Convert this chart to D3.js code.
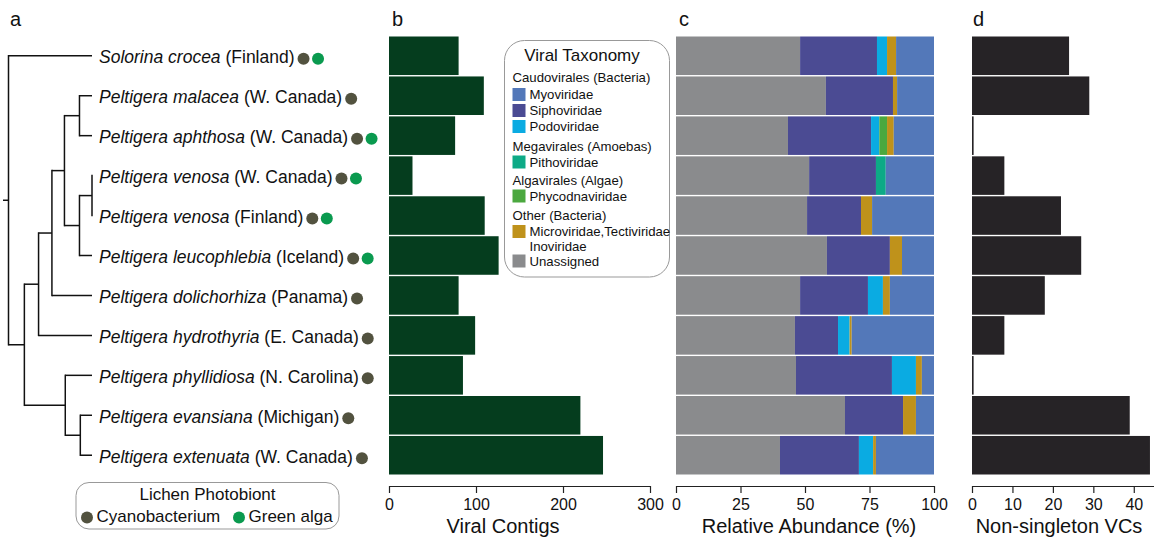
<!DOCTYPE html>
<html lang="en">
<head>
  <meta charset="UTF-8">
  <title>Lichen viromes</title>
  <script src="https://d3js.org/d3.v7.min.js"></script>
  <style>
    body { margin: 0; background: #fff; }
    svg { font-family: "Liberation Sans", Arial, Helvetica, sans-serif; }
    .tick line, .domain { stroke: #222; stroke-width: 1.2px; }
    .axis-title { font-size: 20px; fill: #111; text-anchor: middle; }
    .panel-letter { font-size: 20px; fill: #111; }
  </style>
</head>
<body>
  <svg width="1154" height="538"></svg>
  <script>
    // rows from top to bottom
    const species = ['Solorina crocea', 'Peltigera malacea', 'Peltigera aphthosa', 'Peltigera venosa',
      'Peltigera venosa', 'Peltigera leucophlebia', 'Peltigera dolichorhiza', 'Peltigera hydrothyria',
      'Peltigera phyllidiosa', 'Peltigera evansiana', 'Peltigera extenuata'];
    const locations = ['Finland', 'W. Canada', 'W. Canada', 'W. Canada', 'Finland', 'Iceland',
      'Panama', 'E. Canada', 'N. Carolina', 'Michigan', 'W. Canada'];
    // photobionts: c = cyanobacterium, g = green alga
    const photobionts = [['c', 'g'], ['c'], ['c', 'g'], ['c', 'g'], ['c', 'g'], ['c', 'g'],
      ['c'], ['c'], ['c'], ['c'], ['c']];
    const viralContigs = [80, 109, 76, 27, 110, 126, 80, 99, 85, 220, 246];
    const nonSingletonVCs = [24, 29, 0.4, 8, 22, 27, 18, 8, 0.4, 39, 44];

    // relative abundance (%) per family
    const unassigned = [48.1, 58.1, 43.4, 51.6, 50.8, 58.5, 48.1, 46.1, 46.5, 65.5, 40.3];
    const siphoviridae = [29.8, 26.0, 32.2, 25.9, 20.9, 24.4, 26.3, 16.7, 37.2, 22.5, 30.6];
    const podoviridae = [3.9, 0, 3.2, 0, 0, 0, 5.8, 4.5, 9.3, 0, 5.5];
    const pithoviridae = [0, 0, 0, 3.8, 0, 0, 0, 0, 0, 0, 0];
    const phycodnaviridae = [0, 0, 3.0, 0, 0, 0, 0, 0, 0, 0, 0];
    const microviridae = [3.5, 1.6, 2.6, 0, 4.3, 4.7, 2.7, 0.8, 2.3, 5.0, 1.1];
    const myoviridae = [14.7, 14.3, 15.6, 18.7, 24.0, 12.4, 17.1, 31.9, 4.7, 7.0, 22.5];

    const contigTicks = [0, 100, 200, 300];
    const abundanceTicks = [0, 25, 50, 75, 100];
    const vcTicks = [0, 10, 20, 30, 40];

    // tree: leaves refer to row index, h = node depth
    const tree = { h: 0, children: [
      { leaf: 0 },
      { h: 0.19, children: [
        { h: 0.36, children: [
          { h: 0.52, children: [
            { h: 0.67, children: [
              { h: 0.85, children: [{ leaf: 1 }, { leaf: 2 }] },
              { h: 0.85, children: [
                { h: 1.0, children: [{ leaf: 3 }, { leaf: 4 }] },
                { leaf: 5 }
              ] }
            ] },
            { leaf: 6 }
          ] },
          { leaf: 7 }
        ] },
        { h: 0.68, children: [
          { leaf: 8 },
          { h: 0.86, children: [{ leaf: 9 }, { leaf: 10 }] }
        ] }
      ] }
    ] };

    const families = [
      { key: 'Unassigned', values: unassigned, color: '#8a8b8d' },
      { key: 'Siphoviridae', values: siphoviridae, color: '#4b4b93' },
      { key: 'Podoviridae', values: podoviridae, color: '#0aabe2' },
      { key: 'Pithoviridae', values: pithoviridae, color: '#0daa86' },
      { key: 'Phycodnaviridae', values: phycodnaviridae, color: '#4ba83f' },
      { key: 'Microviridae', values: microviridae, color: '#bf921b' },
      { key: 'Myoviridae', values: myoviridae, color: '#5378b9' }
    ];
    const photoColor = { c: '#52523f', g: '#0a9a4f' };

    const svg = d3.select('svg');
    const rows = d3.range(species.length);
    const y = d3.scaleBand().domain(rows).range([36.5, 474.5]).paddingInner(0.035);
    const rowY = i => y(i) + y.bandwidth() / 2;

    // ---------- panel a: tree ----------
    const tx = d3.scaleLinear().domain([0, 1]).range([8.5, 92]);
    const treeG = svg.append('g').attr('fill', 'none').attr('stroke', '#111').attr('stroke-width', 1.5);
    function layout(node) {
      if (node.leaf !== undefined) {
        node.h = 1;
        node.y = rowY(node.leaf);
        return;
      }
      node.children.forEach(layout);
      node.y = (node.children[0].y + node.children[node.children.length - 1].y) / 2;
    }
    layout(tree);
    function drawTree(node) {
      if (!node.children) return;
      const ys = node.children.map(c => c.y);
      treeG.append('line').attr('x1', tx(node.h)).attr('x2', tx(node.h))
        .attr('y1', d3.min(ys) - 0.75).attr('y2', d3.max(ys) + 0.75);
      node.children.forEach(c => {
        if (c.h > node.h) {
          treeG.append('line').attr('x1', tx(node.h)).attr('x2', tx(c.h))
            .attr('y1', c.y).attr('y2', c.y);
        }
        drawTree(c);
      });
    }
    drawTree(tree);
    treeG.append('line').attr('x1', 3).attr('x2', tx(0)).attr('y1', tree.y).attr('y2', tree.y);

    const labels = svg.append('g');
    rows.forEach(i => {
      const ly = rowY(i) + 1.5;
      const t = labels.append('text').attr('x', 99).attr('y', ly).attr('dy', '0.35em')
        .attr('font-size', 17.5).attr('fill', '#111');
      t.append('tspan').attr('font-style', 'italic').text(species[i]);
      t.append('tspan').text(` (${locations[i]})`);
      const end = 99 + t.node().getComputedTextLength();
      photobionts[i].forEach((p, j) => {
        labels.append('circle').attr('cx', end + 9 + j * 14.5).attr('cy', ly + 1.5).attr('r', 6)
          .attr('fill', photoColor[p]);
      });
    });

    // photobiont legend
    const la = svg.append('g');
    la.append('rect').attr('x', 76).attr('y', 482.5).attr('width', 263).attr('height', 46.5)
      .attr('rx', 13).attr('fill', '#fff').attr('stroke', '#999').attr('stroke-width', 1);
    la.append('text').attr('x', 207.5).attr('y', 494).attr('dy', '0.35em').attr('text-anchor', 'middle')
      .attr('font-size', 17).attr('fill', '#111').text('Lichen Photobiont');
    [['c', 'Cyanobacterium', 87], ['g', 'Green alga', 239]].forEach(([k, name, cx]) => {
      la.append('circle').attr('cx', cx).attr('cy', 517.5).attr('r', 6).attr('fill', photoColor[k]);
      la.append('text').attr('x', cx + 9.5).attr('y', 516).attr('dy', '0.35em')
        .attr('font-size', 17).attr('fill', '#111').text(name);
    });

    // ---------- panel b: viral contigs ----------
    const xb = d3.scaleLinear().domain([0, 300]).range([389, 650]);
    svg.append('g').selectAll('rect').data(rows).join('rect')
      .attr('x', xb(0)).attr('y', i => y(i)).attr('height', y.bandwidth())
      .attr('width', i => xb(viralContigs[i]) - xb(0)).attr('fill', '#053d1e');

    // ---------- panel c: relative abundance ----------
    const xc = d3.scaleLinear().domain([0, 100]).range([676, 934]);
    const table = rows.map(i => {
      const o = { row: i };
      families.forEach(f => { o[f.key] = f.values[i]; });
      return o;
    });
    const stack = d3.stack().keys(families.map(f => f.key))(table);
    svg.append('g').selectAll('g').data(stack).join('g')
      .attr('fill', (s, k) => families[k].color)
      .selectAll('rect').data(s => s).join('rect')
      .attr('x', d => xc(d[0])).attr('width', d => xc(d[1]) - xc(d[0]))
      .attr('y', d => y(d.data.row)).attr('height', y.bandwidth());

    // ---------- panel d: non-singleton VCs ----------
    const xd = d3.scaleLinear().domain([0, 45]).range([972, 1154]);
    svg.append('g').selectAll('rect').data(rows).join('rect')
      .attr('x', xd(0)).attr('y', i => y(i)).attr('height', y.bandwidth())
      .attr('width', i => xd(nonSingletonVCs[i]) - xd(0)).attr('fill', '#262326');

    // ---------- axes ----------
    const axisY = 486;
    [[xb, contigTicks, 'Viral Contigs', 503], [xc, abundanceTicks, 'Relative Abundance (%)', 809],
     [xd, vcTicks, 'Non-singleton VCs', 1059]].forEach(([sc, ticks, title, cx]) => {
      svg.append('g').attr('transform', `translate(0,${axisY})`)
        .call(d3.axisBottom(sc).tickValues(ticks).tickSize(7).tickSizeOuter(0).tickPadding(6))
        .attr('font-size', 16)
        .attr('font-family', null)
        .call(g => g.selectAll('.tick text').attr('fill', '#111'));
      svg.append('text').attr('class', 'axis-title').attr('x', cx).attr('y', 533).text(title);
    });

    // ---------- taxonomy legend ----------
    const lg = svg.append('g');
    lg.append('rect').attr('x', 504.5).attr('y', 40.5).attr('width', 165).attr('height', 236.5)
      .attr('rx', 20).attr('fill', '#fff').attr('stroke', '#999').attr('stroke-width', 1);
    lg.append('text').attr('x', 582).attr('y', 55).attr('dy', '0.35em').attr('text-anchor', 'middle')
      .attr('font-size', 17).attr('fill', '#111').text('Viral Taxonomy');
    const legendRows = [
      { text: 'Caudovirales (Bacteria)', y: 77.5 },
      { text: 'Myoviridae', y: 94.5, color: '#5378b9' },
      { text: 'Siphoviridae', y: 110.5, color: '#4b4b93' },
      { text: 'Podoviridae', y: 126.5, color: '#0aabe2' },
      { text: 'Megavirales (Amoebas)', y: 146 },
      { text: 'Pithoviridae', y: 162, color: '#0daa86' },
      { text: 'Algavirales (Algae)', y: 180.5 },
      { text: 'Phycodnaviridae', y: 196, color: '#4ba83f' },
      { text: 'Other (Bacteria)', y: 215.5 },
      { text: 'Microviridae,Tectiviridae', y: 231.5, color: '#bf921b' },
      { text: 'Inoviridae', y: 246.5, item: true },
      { text: 'Unassigned', y: 261, color: '#8a8b8d' }
    ];
    legendRows.forEach(r => {
      const isItem = r.color || r.item;
      if (r.color) {
        lg.append('rect').attr('x', 512.5).attr('y', r.y - 6.5).attr('width', 13).attr('height', 13)
          .attr('fill', r.color);
      }
      lg.append('text').attr('x', isItem ? 529.5 : 512.5).attr('y', r.y).attr('dy', '0.35em')
        .attr('font-size', 13.2).attr('fill', '#111').text(r.text);
    });

    // ---------- panel letters ----------
    [['a', 10], ['b', 392], ['c', 679], ['d', 973]].forEach(([l, x]) => {
      svg.append('text').attr('class', 'panel-letter').attr('x', x).attr('y', 26).text(l);
    });
  </script>
</body>
</html>
